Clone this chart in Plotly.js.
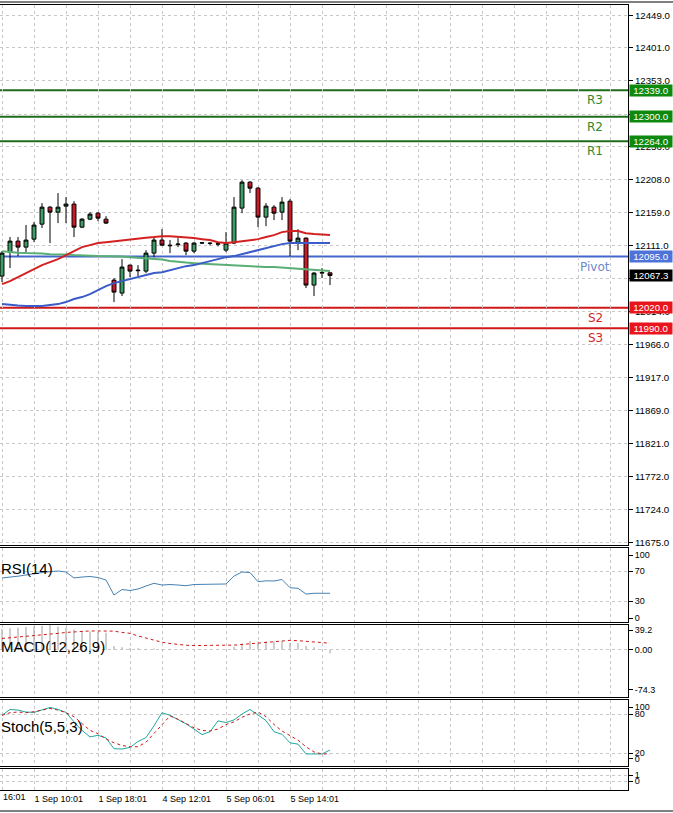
<!DOCTYPE html>
<html><head><meta charset="utf-8">
<script src="https://cdn.plot.ly/plotly-3.0.1.min.js"></script>
<style>html,body{margin:0;padding:0;background:#fff}#chart{width:673px;height:813px}</style>
</head><body><div id="chart"></div>
<script>
// ---- data ----
const bars = [0,1,2,3,4,5,6,7,8,9,10,11,12,13,14,15,16,17,18,19,20,21,22,23,24,25,26,27,28,29,30,31,32,33,34,35,36,37,38,39,40,41];
const openP  = [12066.4,12101.6,12117.7,12108.9,12120.6,12142.6,12167.5,12160.2,12169.0,12172.0,12138.2,12149.9,12158.7,12149.9,12060.5,12041.5,12082.5,12075.2,12073.7,12100.1,12119.2,12111.8,12112.5,12114.8,12103.0,12114.8,12114.8,12113.3,12104.5,12114.8,12166.1,12204.2,12195.4,12152.9,12167.5,12160.2,12176.3,12116.2,12122.1,12053.2,12070.8,12071.2];
const highP  = [12103.0,12123.6,12123.6,12141.2,12145.5,12173.4,12169.0,12188.1,12182.2,12176.3,12151.4,12160.2,12160.2,12154.3,12063.5,12091.3,12083.0,12082.5,12104.5,12123.6,12135.3,12119.2,12122.1,12116.2,12116.2,12116.2,12116.2,12116.2,12130.9,12182.2,12207.1,12205.5,12196.9,12173.4,12170.5,12182.2,12179.3,12135.3,12123.0,12072.3,12078.1,12072.0];
const lowP   = [12057.6,12078.1,12095.7,12101.6,12116.2,12136.8,12114.8,12144.1,12144.1,12123.6,12136.8,12148.5,12147.0,12143.0,12028.3,12037.1,12064.9,12066.4,12070.8,12094.2,12110.4,12100.1,12108.9,12097.2,12100.1,12113.3,12111.4,12110.0,12101.6,12113.3,12158.7,12188.1,12138.2,12139.7,12148.5,12148.5,12095.7,12104.5,12048.8,12037.1,12063.5,12053.2];
const closeP = [12100.1,12117.7,12108.9,12119.2,12141.2,12167.5,12160.2,12167.5,12172.0,12138.2,12149.9,12157.3,12151.4,12144.1,12042.9,12079.6,12073.7,12074.4,12100.1,12119.2,12111.8,12111.0,12113.3,12103.0,12114.8,12115.3,12114.3,12113.8,12114.8,12167.5,12204.2,12195.4,12152.9,12169.0,12158.7,12174.9,12117.7,12122.1,12053.2,12070.8,12071.6,12067.3];
const maRed   = [12054.7,12059.1,12064.9,12070.8,12076.6,12082.5,12086.9,12091.3,12097.2,12103.0,12108.9,12111.8,12114.8,12116.2,12117.7,12119.2,12120.6,12122.1,12122.8,12123.6,12125.0,12125.0,12124.3,12123.6,12122.1,12120.6,12119.2,12116.2,12114.8,12116.2,12117.7,12119.2,12120.6,12123.6,12126.5,12130.9,12132.4,12132.4,12129.4,12128.0,12127.2,12126.5];
const maBlue  = [12025.3,12023.9,12023.1,12022.4,12022.4,12022.4,12023.9,12025.3,12028.3,12032.7,12035.6,12040.0,12045.9,12051.7,12056.1,12059.1,12062.0,12064.9,12067.9,12070.8,12072.2,12075.2,12078.1,12081.0,12082.5,12085.4,12088.4,12091.3,12094.2,12095.7,12098.6,12101.6,12104.5,12107.4,12110.4,12113.3,12114.8,12114.8,12114.8,12114.8,12114.8,12114.8];
const maGreen = [12103.0,12101.6,12100.8,12100.1,12100.1,12099.4,12098.6,12098.6,12097.9,12097.2,12097.2,12096.4,12095.7,12095.7,12095.7,12095.0,12094.2,12093.5,12092.8,12092.0,12090.6,12088.4,12086.9,12086.2,12085.4,12084.7,12084.0,12084.0,12083.2,12082.5,12081.8,12081.0,12080.3,12079.6,12079.6,12078.8,12078.1,12077.4,12076.6,12075.2,12074.4,12073.7];
const rsi14 = [60.7,62.4,63.1,64.7,66.7,68.0,69.1,70.0,68.7,60.7,62.0,62.7,61.3,58.0,38.0,45.3,44.0,46.0,50.0,53.6,51.3,52.0,51.3,50.4,52.0,52.3,52.3,52.4,52.7,63.3,68.7,68.0,55.7,56.9,56.7,58.7,47.7,46.9,39.3,40.3,40.3,40.3];
const macdMain   = [33,34,35,36,37,38,39.2,37,35,32,30,29,28,27,6,4,3,2.5,1.5,2,1.5,1,0.5,0.5,0.5,0.5,0.5,0.5,1,5,10,14,13,13,13,14,11,11,6,4,1,-5.3];
const macdSignal = [18,19,20.5,21.5,22.5,23.3,24.2,26,27.5,28.5,29.5,29.8,29.8,29.8,29.5,27.5,26,22,18.5,16,12,10,8.5,7.3,6.8,6.8,6.8,6.8,6.8,7.5,8.5,9.5,11,12,13,14,15,14.5,13.5,12.5,11.5,10.5];
const stochK = [78,87,86,83,82.5,86,90,87,82.5,68,55,45,47.5,43.5,27,26.5,29,38,44,62,82,78,72,65,57,48.5,53,69.5,67,71,80,87,78.5,70,53,49,36,34,19,19,19,25];
const stochD = [78,82,83,82,83.5,86,88.5,86,82,76,66,55,50,42,36,32,30,30,37,50,64,77,72,66,59,55,54,57,64,68,75,80,83,76,64,54,47,40,30,22,19,19];
const levelNames  = ['R3','R2','R1','Pivot','S2','S3'];
const levelValues = [12339.0,12300.0,12264.0,12095.0,12020.0,11990.0];
const lastPrice = 12067.3;
const priceTicks = [12449,12401,12353,12304,12256,12208,12159,12111,12063,12014,11966,11917,11869,11821,11772,11724,11675];
// 12304 and 12063 sit fully under the price tags in the reference
const priceTickText = ['12449.0','12401.0','12353.0','','12256.0','12208.0','12159.0','12111.0','','12014.0','11966.0','11917.0','11869.0','11821.0','11772.0','11724.0','11675.0'];
const gridBars = [0,4,8,12,16,20,24,28,32,36,40,44,48,52,56,60,64,68,72,76];
const timeLabels = ['','1 Sep 10:01','','1 Sep 18:01','','4 Sep 12:01','','5 Sep 06:01','','5 Sep 14:01','','','','','','','','','',''];

// ---- styling ----
const W = 673, H = 813;
const px = y => 1 - y / H;
const xr = [-0.25, 78.25];
const xDom = [0, 628 / W];
const GRID = '#c8c8c8';
const levelLine = {R3:'#1d6b1d',R2:'#1d6b1d',R1:'#1d6b1d',Pivot:'#4466cc',S2:'#d01818',S3:'#d01818'};
const levelTag  = {R3:'#0d8a0d',R2:'#0d8a0d',R1:'#0d8a0d',Pivot:'#4d72d8',S2:'#e8161c',S3:'#e8161c'};
const levelText = {R3:'#2f8a2f',R2:'#2f8a2f',R1:'#2f8a2f',Pivot:'#6d88cc',S2:'#d02828',S3:'#d02828'};

function xAxis(anchor, labels) {
  return {
    domain: xDom, range: xr, anchor: anchor, fixedrange: true,
    tickmode: 'array', tickvals: gridBars, ticktext: timeLabels,
    showticklabels: labels, ticks: '', ticklabelposition: 'outside right',
    tickfont: {family: 'Liberation Sans', size: 9, color: '#000'},
    showgrid: true, gridcolor: GRID, griddash: '3px,3px', gridwidth: 1,
    showline: true, mirror: true, linecolor: '#000', linewidth: 1, zeroline: false,
    rangeslider: {visible: false}
  };
}
function yAxis(anchor, dom, range, tv, tt, fs, minorVals) {
  const a = {
    domain: dom, range: range, anchor: anchor, side: 'right', fixedrange: true,
    tickmode: 'array', tickvals: tv, ticktext: tt,
    ticks: 'outside', ticklen: 4, tickcolor: '#000',
    tickfont: {family: 'Liberation Sans', size: fs, color: '#000'},
    showgrid: !minorVals, gridcolor: GRID, griddash: '3px,3px',
    showline: true, mirror: false, linecolor: '#000', linewidth: 1, zeroline: false
  };
  if (minorVals) a.minor = {tickmode: 'array', tickvals: minorVals, showgrid: true, gridcolor: GRID, griddash: '3px,3px', ticks: ''};
  return a;
}

const traces = [
  {type: 'candlestick', x: bars, open: openP, high: highP, low: lowP, close: closeP,
   xaxis: 'x', yaxis: 'y', whiskerwidth: 0,
   increasing: {line: {color: '#000', width: 1}, fillcolor: '#3c9e64'},
   decreasing: {line: {color: '#000', width: 1}, fillcolor: '#cc1a2a'}, hoverinfo: 'skip'},
  {type: 'scatter', mode: 'lines', x: bars, y: maGreen, xaxis: 'x', yaxis: 'y', line: {color: '#5aae74', width: 2}},
  {type: 'scatter', mode: 'lines', x: bars, y: maBlue, xaxis: 'x', yaxis: 'y', line: {color: '#3a5bc8', width: 2}},
  {type: 'scatter', mode: 'lines', x: bars, y: maRed, xaxis: 'x', yaxis: 'y', line: {color: '#d42020', width: 2}},
  {type: 'scatter', mode: 'lines', x: bars, y: rsi14, xaxis: 'x2', yaxis: 'y2', line: {color: '#4682b4', width: 1}},
  {type: 'bar', x: bars, y: macdMain, xaxis: 'x3', yaxis: 'y3', width: 0.14, marker: {color: '#a8a8a8', line: {width: 0}}},
  {type: 'scatter', mode: 'lines', x: bars, y: macdSignal, xaxis: 'x3', yaxis: 'y3', line: {color: '#d01818', width: 1, dash: 'dot'}},
  {type: 'scatter', mode: 'lines', x: bars, y: stochK, xaxis: 'x4', yaxis: 'y4', line: {color: '#20a8a0', width: 1}},
  {type: 'scatter', mode: 'lines', x: bars, y: stochD, xaxis: 'x4', yaxis: 'y4', line: {color: '#d01818', width: 1, dash: 'dot'}},
  {type: 'scatter', mode: 'lines', x: [], y: [], xaxis: 'x5', yaxis: 'y5'}
];

const shapes = [
  {type: 'line', xref: 'paper', yref: 'paper', x0: 0, x1: 1, y0: px(2), y1: px(2), line: {color: '#000', width: 1}},
  {type: 'line', xref: 'paper', yref: 'paper', x0: 0, x1: 1, y0: px(811), y1: px(811), line: {color: '#000', width: 1}}
];
const annotations = [];
levelNames.forEach((n, i) => {
  const v = levelValues[i];
  shapes.push({type: 'line', xref: 'paper', yref: 'y', x0: 0, x1: xDom[1], y0: v, y1: v, layer: 'below',
    line: {color: levelLine[n], width: 2}});
  annotations.push({xref: 'paper', yref: 'y', x: 595 / W, y: v, yshift: -10, xanchor: 'center', yanchor: 'middle',
    text: n, showarrow: false, font: {family: 'DejaVu Sans', size: 12, color: levelText[n]}});
  annotations.push({xref: 'paper', yref: 'y', x: 629 / W, y: v, xanchor: 'left', yanchor: 'middle',
    text: v.toFixed(1), showarrow: false, bgcolor: levelTag[n], borderpad: 0, width: 42, height: 11,
    font: {family: 'Liberation Sans', size: 9.7, color: '#fff'}});
});
annotations.push({xref: 'paper', yref: 'y', x: 629 / W, y: lastPrice, xanchor: 'left', yanchor: 'middle',
  text: lastPrice.toFixed(1), showarrow: false, bgcolor: '#000', borderpad: 0, width: 42, height: 11,
  font: {family: 'Liberation Sans', size: 9.7, color: '#fff'}});
[['RSI(14)', 568], ['MACD(12,26,9)', 646], ['Stoch(5,5,3)', 726]].forEach(([t, y]) => {
  annotations.push({xref: 'paper', yref: 'paper', x: 0, y: px(y), xanchor: 'left', yanchor: 'middle',
    text: t, showarrow: false, borderpad: 0, font: {family: 'Liberation Sans', size: 15, color: '#000'}});
});
annotations.push({xref: 'paper', yref: 'paper', x: 2 / W, y: px(797), xanchor: 'left', yanchor: 'middle',
  text: '16:01', showarrow: false, borderpad: 0, font: {family: 'Liberation Sans', size: 9, color: '#000'}});

const layout = {
  width: W, height: H, margin: {l: 0, r: 0, t: 0, b: 0},
  paper_bgcolor: '#fff', plot_bgcolor: '#fff', showlegend: false,
  font: {family: 'Liberation Sans', color: '#000'},
  hovermode: false, boxgap: 0.3,
  xaxis: xAxis('y', false), xaxis2: xAxis('y2', false), xaxis3: xAxis('y3', false),
  xaxis4: xAxis('y4', false), xaxis5: xAxis('y5', true),
  yaxis:  yAxis('x',  [px(545), px(5)],   [11672, 12464], priceTicks, priceTickText, 9.7, null),
  yaxis2: yAxis('x2', [px(622), px(548)], [2, 100.7], [91.3, 70, 30, 7.3], ['100', '70', '30', '0'], 9, [70, 30]),
  yaxis3: yAxis('x3', [px(697), px(625)], [-74.3, 39.2], [30.8, 0, -62.3], ['39.2', '0.00', '-74.3'], 9, [0]),
  yaxis4: yAxis('x4', [px(766), px(700)], [0.6, 101.4], [90.7, 80, 20, 11.3], ['100', '80', '20', '0'], 9, [80, 20]),
  yaxis5: yAxis('x5', [px(790), px(769)], [-1.5, 2], [1, 0], ['1', '0'], 9, null),
  shapes: shapes, annotations: annotations
};
Plotly.newPlot('chart', traces, layout, {staticPlot: true, displayModeBar: false});
</script></body></html>
